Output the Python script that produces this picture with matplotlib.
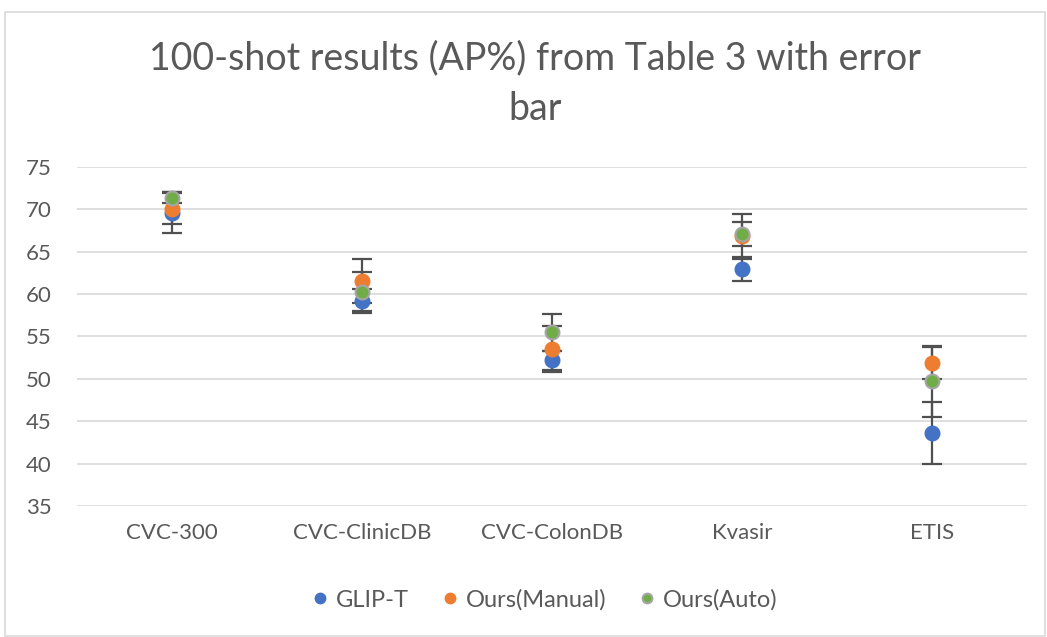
"""
100-shot AP% results with error bars, Excel-style scatter chart.
"""

import matplotlib

matplotlib.use("Agg")
import matplotlib.pyplot as plt
from matplotlib.patches import Rectangle
import numpy as np

datasets = ["CVC-300", "CVC-ClinicDB", "CVC-ColonDB", "Kvasir", "ETIS"]

glip_t = [69.6, 59.2, 52.2, 63.0, 43.6]
glip_t_err = [2.4, 1.4, 1.1, 1.4, 3.7]

ours_manual = [70.1, 61.5, 53.5, 66.8, 51.9]
ours_manual_err = [1.8, 2.6, 2.7, 2.6, 1.9]

ours_auto = [71.4, 60.3, 55.5, 67.1, 49.7]
ours_auto_err = [0.7, 2.3, 2.2, 1.4, 4.2]

TEXT = "#595959"
GRID = "#D9D9D9"
ERR = "#505050"

plt.rcParams["font.family"] = ["Lato", "DejaVu Sans"]

fig = plt.figure(figsize=(10.47, 6.37), dpi=100)
fig.patch.set_facecolor("white")
fig.add_artist(Rectangle((5 / 1047, 0.002), 1 - 7 / 1047, 1 - 12 / 637 - 0.002,
                         transform=fig.transFigure, fill=False,
                         edgecolor=GRID, linewidth=1.2))

ax = fig.add_axes([77 / 1047, 1 - 506 / 637, 950 / 1047, (506 - 167) / 637])
x = np.arange(len(datasets))

series = [
    ("GLIP-T", glip_t, glip_t_err, "#4472C4", "#4472C4"),
    ("Ours(Manual)", ours_manual, ours_manual_err, "#ED7D31", "#ED7D31"),
    ("Ours(Auto)", ours_auto, ours_auto_err, "#70AD47", "#A5A5A5"),
]

for name, vals, err, col, edge in series:
    ax.errorbar(x, vals, yerr=err, fmt="none", ecolor=ERR, elinewidth=1.6,
                capsize=7, capthick=1.6, zorder=2)
for name, vals, err, col, edge in series:
    ax.plot(x, vals, "o", color=col, markeredgecolor=edge, markeredgewidth=1.5,
            markersize=10, linestyle="none", label=name, zorder=3)

ax.set_xlim(-0.5, len(datasets) - 0.5)
ax.set_ylim(35, 75)
ax.set_yticks(np.arange(35, 76, 5))
ax.set_xticks(x)
ax.set_xticklabels(datasets)
ax.grid(axis="y", color=GRID, linewidth=1.2, zorder=0)
ax.set_axisbelow(True)
for s in ax.spines.values():
    s.set_visible(False)
ax.tick_params(axis="both", length=0, labelsize=16, labelcolor=TEXT)
ax.tick_params(axis="x", pad=12)
ax.tick_params(axis="y", pad=18)

fig.text(0.511, 1 - 58 / 637, "100-shot results (AP%) from Table 3 with error",
         ha="center", va="center", fontsize=27, color=TEXT)
fig.text(0.511, 1 - 109 / 637, "bar", ha="center", va="center",
         fontsize=27, color=TEXT)

handles, labels = ax.get_legend_handles_labels()
leg = fig.legend(handles, labels, loc="center", bbox_to_anchor=(0.518, 1 - 600 / 637),
                 ncol=3, frameon=False, fontsize=17, handletextpad=0.1,
                 columnspacing=1.2, markerscale=0.7, handlelength=1.1)
for t in leg.get_texts():
    t.set_color(TEXT)

fig.savefig("out.png", dpi=100)
